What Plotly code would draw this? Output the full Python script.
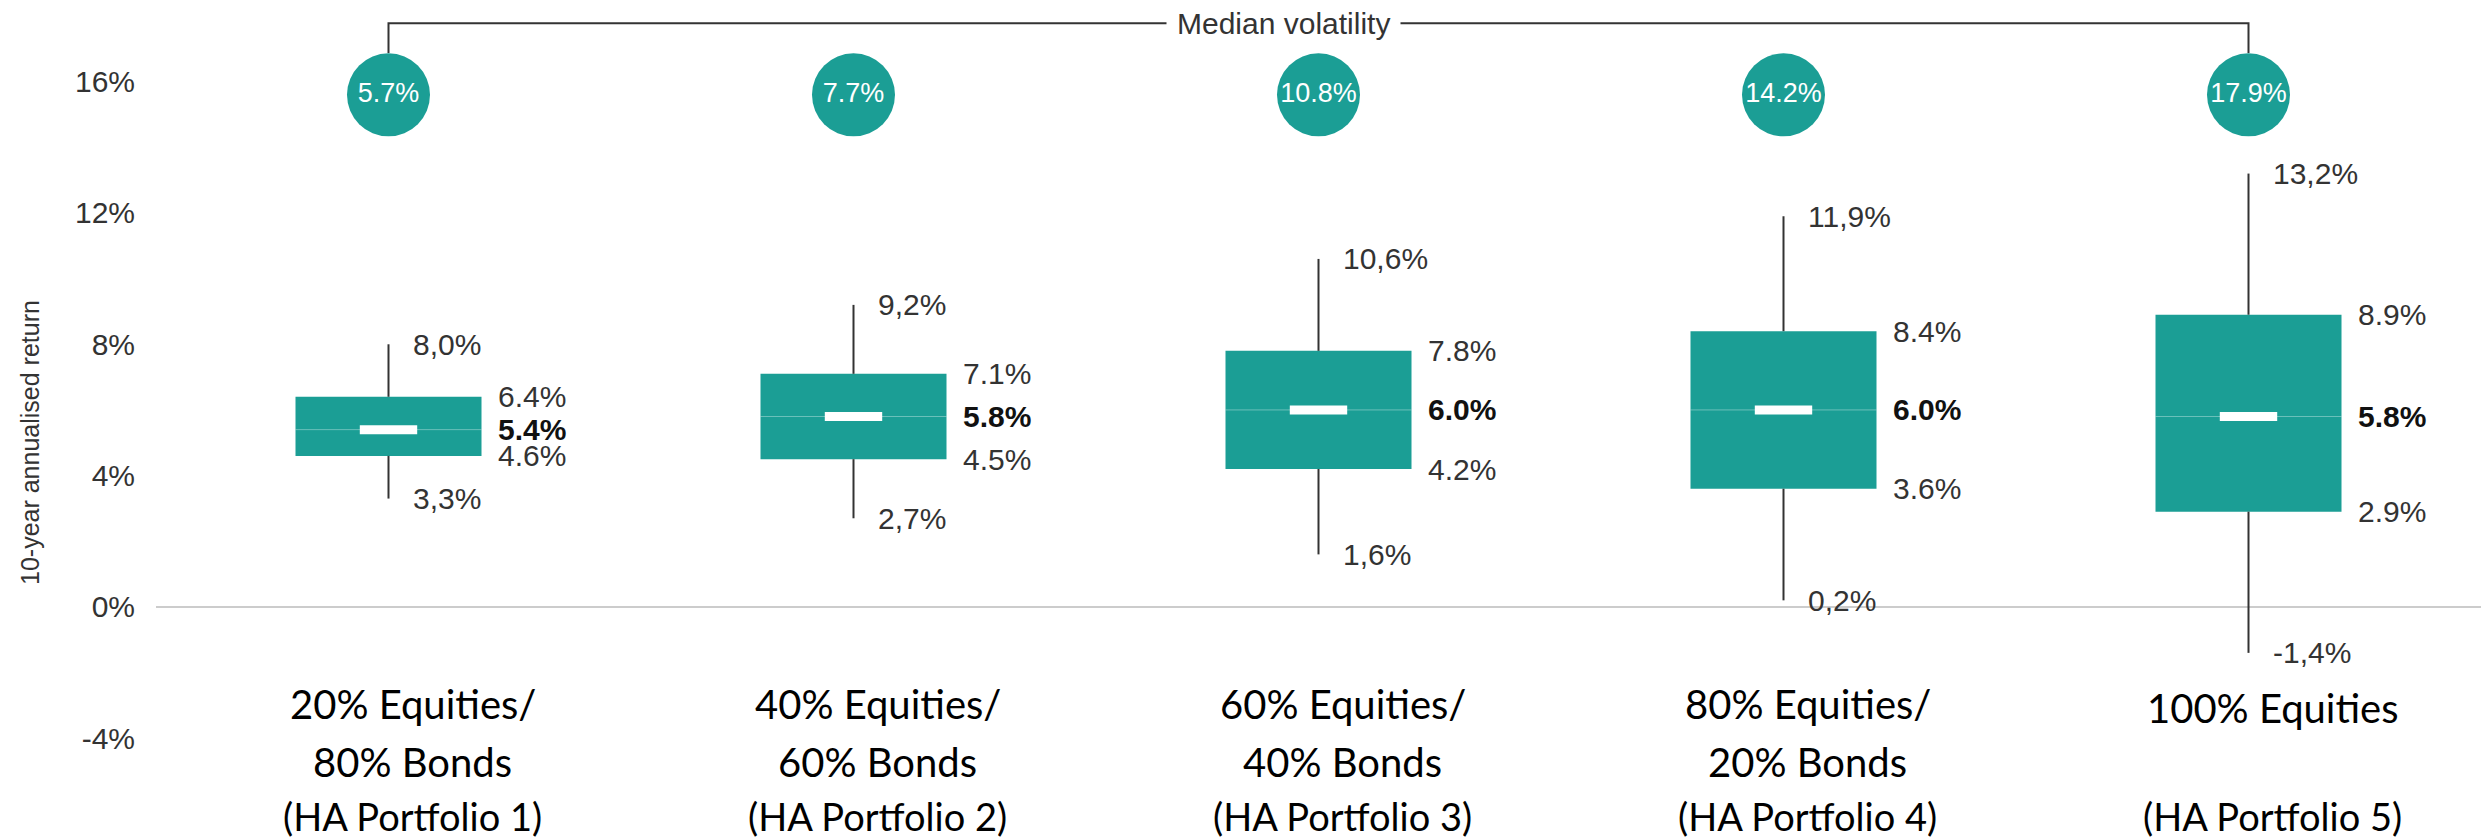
import plotly.graph_objects as go

# ---------------- data ----------------
portfolios_line1 = ["20% Equities/", "40% Equities/", "60% Equities/", "80% Equities/", "100% Equities"]
portfolios_line2 = ["80% Bonds", "60% Bonds", "40% Bonds", "20% Bonds", ""]
portfolios_line3 = ["(HA Portfolio 1)", "(HA Portfolio 2)", "(HA Portfolio 3)", "(HA Portfolio 4)", "(HA Portfolio 5)"]

lower = [3.3, 2.7, 1.6, 0.2, -1.4]
q1 = [4.6, 4.5, 4.2, 3.6, 2.9]
median = [5.4, 5.8, 6.0, 6.0, 5.8]
q3 = [6.4, 7.1, 7.8, 8.4, 8.9]
upper = [8.0, 9.2, 10.6, 11.9, 13.2]
median_volatility = [5.7, 7.7, 10.8, 14.2, 17.9]

y_tick_values = [-4, 0, 4, 8, 12, 16]
y_tick_labels = ["-4%", "0%", "4%", "8%", "12%", "16%"]

# ---------------- style ----------------
TEAL = "#1b9e95"
DARK = "#333333"
FONT = "Arial, 'Liberation Sans', sans-serif"
CAT_FONT = "Lato, 'Open Sans', sans-serif"
BOX_W = 0.4
VOL_ROW = 15.6        # vertical level of the volatility bubbles
BRACKET_Y = 17.78     # level of the "Median volatility" bracket
BUBBLE_TOP = 16.87

pos = list(range(len(median)))

fig = go.Figure()

# whiskers
wx, wy = [], []
for i in pos:
    wx += [i, i, None, i, i, None]
    wy += [q3[i], upper[i], None, q1[i], lower[i], None]
fig.add_trace(go.Scatter(x=wx, y=wy, mode="lines",
                         line=dict(color=DARK, width=2), hoverinfo="skip"))

# boxes
fig.add_trace(go.Bar(x=pos, y=[q3[i] - q1[i] for i in pos], base=q1, width=BOX_W,
                     marker=dict(color=TEAL, line=dict(width=0)), hoverinfo="skip"))

# thin median line across the box
mx, my = [], []
for i in pos:
    mx += [i - BOX_W / 2, i + BOX_W / 2, None]
    my += [median[i], median[i], None]
fig.add_trace(go.Scatter(x=mx, y=my, mode="lines",
                         line=dict(color="rgba(255,255,255,0.35)", width=1), hoverinfo="skip"))

# white median marker
fig.add_trace(go.Scatter(x=pos, y=median, mode="markers",
                         marker=dict(symbol="line-ew", size=41,
                                     line=dict(color="white", width=9)),
                         hoverinfo="skip"))

# volatility bubbles
fig.add_trace(go.Scatter(x=pos, y=[VOL_ROW] * len(pos), mode="markers+text",
                         marker=dict(size=83, color=TEAL, line=dict(width=0)),
                         text=[f"{v:.1f}%" for v in median_volatility],
                         textposition="middle center",
                         textfont=dict(family=FONT, size=27, color="white"),
                         hoverinfo="skip"))

# bracket
fig.add_trace(go.Scatter(x=[pos[0], pos[0], pos[-1], pos[-1]],
                         y=[BUBBLE_TOP, BRACKET_Y, BRACKET_Y, BUBBLE_TOP],
                         mode="lines", line=dict(color=DARK, width=2), hoverinfo="skip"))

annotations = []
annotations.append(dict(x=1.925, y=BRACKET_Y, xref="x", yref="y", text="Median volatility",
                        showarrow=False, bgcolor="white", borderpad=10,
                        font=dict(family=FONT, size=30, color=DARK),
                        xanchor="center", yanchor="middle"))

def comma(v):
    return f"{v:.1f}".replace(".", ",") + "%"

for i in pos:
    # whisker labels
    for v in (upper[i], lower[i]):
        annotations.append(dict(x=i, y=v, xref="x", yref="y", text=comma(v), showarrow=False,
                                xanchor="left", yanchor="middle", xshift=22,
                                font=dict(family=FONT, size=30, color=DARK)))
    # box labels
    annotations.append(dict(x=i, y=q3[i], xref="x", yref="y", text=f"{q3[i]:.1f}%", showarrow=False,
                            xanchor="left", yanchor="middle", xshift=107,
                            font=dict(family=FONT, size=30, color=DARK)))
    annotations.append(dict(x=i, y=q1[i], xref="x", yref="y", text=f"{q1[i]:.1f}%", showarrow=False,
                            xanchor="left", yanchor="middle", xshift=107,
                            font=dict(family=FONT, size=30, color=DARK)))
    annotations.append(dict(x=i, y=median[i], xref="x", yref="y", text=f"<b>{median[i]:.1f}%</b>",
                            showarrow=False, xanchor="left", yanchor="middle", xshift=107,
                            font=dict(family=FONT, size=30, color="#111111")))

# category labels (plot area: bottom at 817 px, height 801 px)
def py(pix):
    return (817 - pix) / 801.0

for i in pos:
    if portfolios_line2[i]:
        annotations.append(dict(x=i, y=py(704), xref="x", yref="paper", text=portfolios_line1[i],
                                showarrow=False, xanchor="center", yanchor="middle", xshift=24,
                                font=dict(family=CAT_FONT, size=40, color="black")))
        annotations.append(dict(x=i, y=py(762), xref="x", yref="paper", text=portfolios_line2[i],
                                showarrow=False, xanchor="center", yanchor="middle", xshift=24,
                                font=dict(family=CAT_FONT, size=40, color="black")))
    else:
        annotations.append(dict(x=i, y=py(708), xref="x", yref="paper", text=portfolios_line1[i],
                                showarrow=False, xanchor="center", yanchor="middle", xshift=24,
                                font=dict(family=CAT_FONT, size=40, color="black")))
    annotations.append(dict(x=i, y=py(816), xref="x", yref="paper", text=portfolios_line3[i],
                            showarrow=False, xanchor="center", yanchor="middle", xshift=24,
                            font=dict(family=CAT_FONT, size=38, color="black")))

# y-axis title
annotations.append(dict(x=(30 - 156) / 2325.0, y=py(443), xref="paper", yref="paper",
                        text="10-year annualised return", textangle=-90, showarrow=False,
                        xanchor="center", yanchor="middle",
                        font=dict(family=FONT, size=25, color=DARK)))

fig.update_layout(
    width=2481, height=839,
    margin=dict(l=156, r=0, t=16, b=22),
    paper_bgcolor="white", plot_bgcolor="white",
    showlegend=False,
    annotations=annotations,
    xaxis=dict(range=[-0.5, 4.5], showticklabels=False, showgrid=False,
               zeroline=False, showline=False, fixedrange=True),
    yaxis=dict(range=[-6.4, 18.0], tickvals=y_tick_values, ticktext=y_tick_labels,
               showgrid=False, zeroline=True, zerolinecolor="#cccccc", zerolinewidth=2,
               showline=False, ticks="", ticklabelstandoff=20,
               tickfont=dict(family=FONT, size=30, color=DARK)),
)

fig.write_html("out.html", config={"displayModeBar": False},
               post_script="document.body.style.margin='0px';document.body.style.overflow='hidden';")
